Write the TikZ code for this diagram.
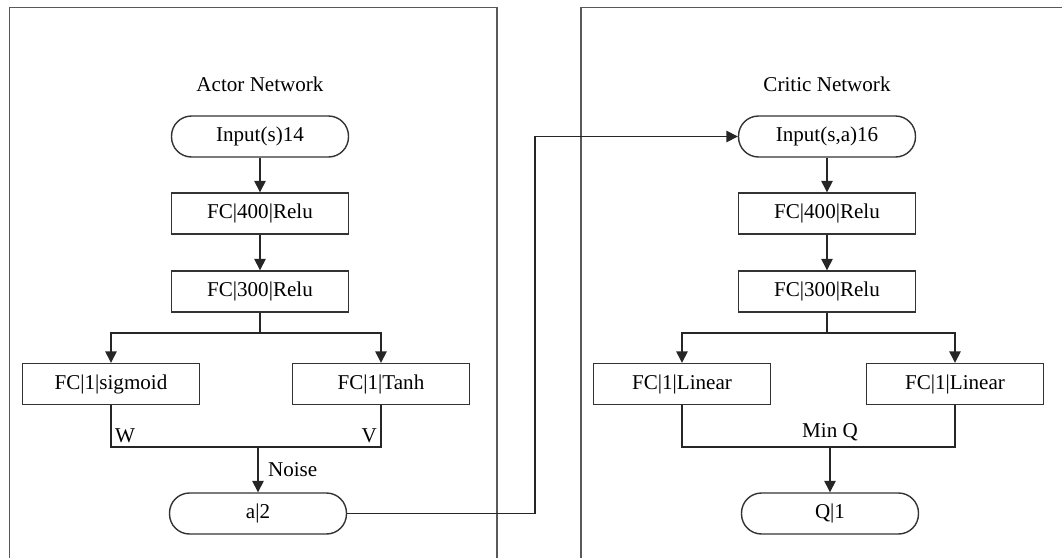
\documentclass[tikz,border=0pt]{standalone}
\usepackage{fontspec}
\setmainfont{Liberation Serif}
\usetikzlibrary{arrows.meta}
\begin{document}
\begin{tikzpicture}[x=0.02cm,y=-0.02cm,
    font=\fontsize{12}{14}\selectfont,
    line width=0.8pt,
    layer/.style={rectangle,draw=black!80,minimum width=3.54cm,minimum height=0.82cm,inner sep=0pt},
    term/.style={layer,rounded corners=0.4cm},
    link/.style={draw=black!85,-{Triangle[length=6.5pt,width=6.5pt]}},
    wire/.style={draw=black!85},
    frame/.style={draw=black!65}]
  \useasboundingbox (0,0) rectangle (1062,558);
  % frames
  \draw[frame] (9.5,558) |- (497,7.5) -- (497,558);
  \draw[frame] (581,558) |- (1062,7.5);
  % actor
  \node (atitle) at (260,84) {Actor Network};
  \node[term] (ain) at (260,136.5) {Input(s)14};
  \node[layer] (afc1) at (260,213.5) {FC|400|Relu};
  \node[layer] (afc2) at (260,291.5) {FC|300|Relu};
  \node[layer] (asig) at (111,384) {FC|1|sigmoid};
  \node[layer] (atanh) at (381,384) {FC|1|Tanh};
  \node[term] (aout) at (258,513.5) {a|2};
  \coordinate (asplit) at (260,333);
  \coordinate (amerge) at (258,447);
  \draw[link] (ain) -- (afc1);
  \draw[link] (afc1) -- (afc2);
  \draw[wire] (afc2) -- (asplit);
  \draw[link] (asplit) -| (asig);
  \draw[link] (asplit) -| (atanh);
  \draw[wire] (asig) |- (amerge) -| (atanh);
  \draw[link] (amerge) -- (aout) node[midway,right,xshift=2pt] {Noise};
  \node[anchor=south west,inner sep=2pt] (lw) at (asig.south |- amerge) {W};
  \node[anchor=south east,inner sep=2pt] (lv) at (atanh.south |- amerge) {V};
  % critic
  \node (ctitle) at (827,84) {Critic Network};
  \node[term] (cin) at (827,136.5) {Input(s,a)16};
  \node[layer] (cfc1) at (827,213.5) {FC|400|Relu};
  \node[layer] (cfc2) at (827,291.5) {FC|300|Relu};
  \node[layer] (clin1) at (682,384) {FC|1|Linear};
  \node[layer] (clin2) at (955,384) {FC|1|Linear};
  \node[term] (cq) at (830,513.5) {Q|1};
  \coordinate (csplit) at (827,333);
  \coordinate (cmerge) at (830,447);
  \draw[link] (cin) -- (cfc1);
  \draw[link] (cfc1) -- (cfc2);
  \draw[wire] (cfc2) -- (csplit);
  \draw[link] (csplit) -| (clin1);
  \draw[link] (csplit) -| (clin2);
  \draw[wire] (clin1) |- (cmerge) -| (clin2);
  \draw[link] (cmerge) -- (cq);
  \node[anchor=south,inner sep=3pt] (minq) at (cmerge) {Min Q};
  % actor output to critic input
  \coordinate (bend) at (535,513.5);
  \draw[link] (aout) -- (bend) |- (cin);
\end{tikzpicture}
\end{document}
